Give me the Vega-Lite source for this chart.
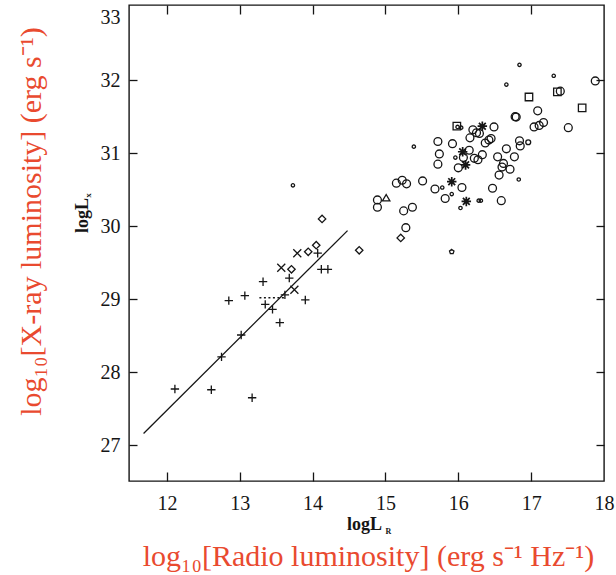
{
  "$schema": "https://vega.github.io/schema/vega-lite/v6.json",
  "width": 475,
  "height": 476,
  "autosize": {"type": "none"},
  "padding": {"left": 129, "top": 5, "right": 12, "bottom": 94},
  "background": "white",
  "config": {
    "view": {"stroke": "#151515", "strokeWidth": 1.4},
    "axis": {"grid": false, "labelFlush": false, "labelOverlap": false}
  },
  "datasets": {
    "pts": [
      {"lr": 17.88, "lx": 31.99, "k": "o"},
      {"lr": 17.40, "lx": 31.85, "k": "o"},
      {"lr": 17.09, "lx": 31.58, "k": "o"},
      {"lr": 16.78, "lx": 31.50, "k": "o"},
      {"lr": 16.795, "lx": 31.495, "k": "o"},
      {"lr": 17.51, "lx": 31.35, "k": "o"},
      {"lr": 17.04, "lx": 31.36, "k": "o"},
      {"lr": 17.11, "lx": 31.38, "k": "o"},
      {"lr": 17.17, "lx": 31.42, "k": "o"},
      {"lr": 16.84, "lx": 31.17, "k": "o"},
      {"lr": 16.85, "lx": 31.10, "k": "o"},
      {"lr": 16.49, "lx": 31.36, "k": "o"},
      {"lr": 16.20, "lx": 31.32, "k": "o"},
      {"lr": 16.25, "lx": 31.28, "k": "o"},
      {"lr": 16.29, "lx": 31.27, "k": "o"},
      {"lr": 16.16, "lx": 31.21, "k": "o"},
      {"lr": 16.45, "lx": 31.20, "k": "o"},
      {"lr": 16.42, "lx": 31.18, "k": "o"},
      {"lr": 16.37, "lx": 31.14, "k": "o"},
      {"lr": 15.72, "lx": 31.16, "k": "o"},
      {"lr": 15.92, "lx": 31.13, "k": "o"},
      {"lr": 15.74, "lx": 30.99, "k": "o"},
      {"lr": 15.72, "lx": 30.85, "k": "o"},
      {"lr": 16.15, "lx": 31.04, "k": "o"},
      {"lr": 16.07, "lx": 30.94, "k": "o"},
      {"lr": 16.00, "lx": 30.80, "k": "o"},
      {"lr": 16.22, "lx": 30.93, "k": "o"},
      {"lr": 16.27, "lx": 30.91, "k": "o"},
      {"lr": 16.33, "lx": 30.98, "k": "o"},
      {"lr": 16.66, "lx": 31.06, "k": "o"},
      {"lr": 16.54, "lx": 30.95, "k": "o"},
      {"lr": 16.77, "lx": 30.95, "k": "o"},
      {"lr": 16.62, "lx": 30.86, "k": "o"},
      {"lr": 16.60, "lx": 30.81, "k": "o"},
      {"lr": 16.71, "lx": 30.78, "k": "o"},
      {"lr": 16.56, "lx": 30.70, "k": "o"},
      {"lr": 16.47, "lx": 30.52, "k": "o"},
      {"lr": 16.59, "lx": 30.35, "k": "o"},
      {"lr": 16.05, "lx": 30.53, "k": "o"},
      {"lr": 15.68, "lx": 30.51, "k": "o"},
      {"lr": 15.82, "lx": 30.38, "k": "o"},
      {"lr": 15.51, "lx": 30.62, "k": "o"},
      {"lr": 15.15, "lx": 30.59, "k": "o"},
      {"lr": 15.23, "lx": 30.63, "k": "o"},
      {"lr": 15.29, "lx": 30.58, "k": "o"},
      {"lr": 14.89, "lx": 30.36, "k": "o"},
      {"lr": 14.89, "lx": 30.26, "k": "o"},
      {"lr": 15.25, "lx": 30.21, "k": "o"},
      {"lr": 15.37, "lx": 30.26, "k": "o"},
      {"lr": 15.28, "lx": 29.98, "k": "o"},
      {"lr": 16.84, "lx": 32.21, "k": "s"},
      {"lr": 17.31, "lx": 32.06, "k": "s"},
      {"lr": 16.66, "lx": 31.94, "k": "s"},
      {"lr": 15.99, "lx": 31.36, "k": "s"},
      {"lr": 16.04, "lx": 31.35, "k": "s"},
      {"lr": 15.96, "lx": 30.94, "k": "s"},
      {"lr": 16.83, "lx": 30.64, "k": "s"},
      {"lr": 15.78, "lx": 30.53, "k": "s"},
      {"lr": 15.91, "lx": 30.44, "k": "s"},
      {"lr": 16.03, "lx": 30.25, "k": "s"},
      {"lr": 16.28, "lx": 30.35, "k": "s"},
      {"lr": 16.31, "lx": 30.35, "k": "s"},
      {"lr": 15.39, "lx": 31.09, "k": "s"},
      {"lr": 13.73, "lx": 30.56, "k": "s"},
      {"lr": 16.96, "lx": 31.15, "k": "m"},
      {"lr": 16.97, "lx": 31.77, "k": "sq"},
      {"lr": 17.36, "lx": 31.84, "k": "sq"},
      {"lr": 17.70, "lx": 31.62, "k": "sq"},
      {"lr": 15.98, "lx": 31.37, "k": "sq"},
      {"lr": 16.33, "lx": 31.37, "k": "ast"},
      {"lr": 16.06, "lx": 31.02, "k": "ast"},
      {"lr": 16.10, "lx": 30.84, "k": "ast"},
      {"lr": 15.91, "lx": 30.61, "k": "ast"},
      {"lr": 16.11, "lx": 30.34, "k": "ast"},
      {"lr": 15.01, "lx": 30.39, "k": "tri"},
      {"lr": 15.91, "lx": 29.65, "k": "pen"},
      {"lr": 15.21, "lx": 29.84, "k": "dia"},
      {"lr": 14.64, "lx": 29.67, "k": "dia"},
      {"lr": 14.13, "lx": 30.10, "k": "dia"},
      {"lr": 13.94, "lx": 29.65, "k": "dia"},
      {"lr": 14.05, "lx": 29.74, "k": "dia"},
      {"lr": 13.71, "lx": 29.41, "k": "dia"},
      {"lr": 13.57, "lx": 29.43, "k": "x"},
      {"lr": 13.79, "lx": 29.63, "k": "x"},
      {"lr": 13.75, "lx": 29.13, "k": "x"},
      {"lr": 12.11, "lx": 27.77, "k": "p"},
      {"lr": 12.61, "lx": 27.76, "k": "p"},
      {"lr": 13.17, "lx": 27.65, "k": "p"},
      {"lr": 12.75, "lx": 28.21, "k": "p"},
      {"lr": 13.02, "lx": 28.51, "k": "p"},
      {"lr": 12.85, "lx": 28.98, "k": "p"},
      {"lr": 13.07, "lx": 29.05, "k": "p"},
      {"lr": 13.32, "lx": 29.24, "k": "p"},
      {"lr": 13.35, "lx": 28.93, "k": "p"},
      {"lr": 13.45, "lx": 28.86, "k": "p"},
      {"lr": 13.55, "lx": 28.68, "k": "p"},
      {"lr": 13.62, "lx": 29.06, "k": "p"},
      {"lr": 13.68, "lx": 29.29, "k": "p"},
      {"lr": 13.90, "lx": 28.99, "k": "p"},
      {"lr": 14.12, "lx": 29.41, "k": "p"},
      {"lr": 14.21, "lx": 29.41, "k": "p"},
      {"lr": 14.07, "lx": 29.63, "k": "p"}
    ],
    "fit": [
      {"lr": 11.68, "lx": 27.16},
      {"lr": 14.48, "lx": 29.94}
    ],
    "dot": [
      {"lr": 13.27, "lx": 29.02},
      {"lr": 13.64, "lx": 29.02}
    ]
  },
  "layer": [
    {
      "data": {"name": "pts"},
      "transform": [{"filter": "datum.k === 'o'"}],
      "mark": {"type": "point", "shape": "circle", "size": 62, "filled": false, "stroke": "#151515", "strokeWidth": 1.3, "opacity": 1},
      "encoding": {
        "x": {"field": "lr", "type": "quantitative", "scale": {"domain": [11.48, 18.0], "nice": false, "zero": false},
          "axis": {"orient": "bottom", "values": [12, 13, 14, 15, 16, 17, 18], "format": "d", "ticks": false, "domain": false,
            "labelFont": "Liberation Serif", "labelFontSize": 20, "labelColor": "#151515", "labelPadding": 12, "labelFlush": false,
            "title": "logL", "titleFont": "Liberation Serif", "titleFontSize": 18, "titleFontWeight": "bold", "titleColor": "#151515",
            "titleX": 235, "titleY": 48, "titleBaseline": "alphabetic", "titleAlign": "center"}},
        "y": {"field": "lx", "type": "quantitative", "scale": {"domain": [26.51, 33.03], "nice": false, "zero": false},
          "axis": {"orient": "left", "values": [27, 28, 29, 30, 31, 32, 33], "format": "d", "ticks": false, "domain": false,
            "labelFont": "Liberation Serif", "labelFontSize": 20, "labelColor": "#151515", "labelPadding": 9, "labelFlush": false,
            "labelBaseline": {"condition": {"test": "datum.value === 33", "value": "top"}, "value": "middle"},
            "title": "logL", "titleFont": "Liberation Serif", "titleFontSize": 18, "titleFontWeight": "bold", "titleColor": "#151515",
            "titleX": -42, "titleY": 210, "titleAngle": -90, "titleBaseline": "alphabetic", "titleAlign": "center"}}
      }
    },
    {
      "data": {"name": "pts"},
      "transform": [{"filter": "datum.k === 's'"}],
      "mark": {"type": "point", "shape": "circle", "size": 11, "filled": false, "stroke": "#151515", "strokeWidth": 1.3, "opacity": 1},
      "encoding": {
        "x": {"field": "lr", "type": "quantitative", "scale": {"domain": [11.48, 18.0], "nice": false, "zero": false},
          "axis": {"orient": "bottom", "values": [12, 13, 14, 15, 16, 17], "labels": false, "domain": false, "ticks": true,
            "tickSize": -9, "tickWidth": 1.3, "tickColor": "#151515", "title": null}},
        "y": {"field": "lx", "type": "quantitative", "scale": {"domain": [26.51, 33.03], "nice": false, "zero": false},
          "axis": {"orient": "left", "values": [27, 28, 29, 30, 31, 32], "labels": false, "domain": false, "ticks": true,
            "tickSize": -8, "tickWidth": 1.3, "tickColor": "#151515", "title": null}}
      }
    },
    {
      "data": {"name": "fit"},
      "mark": {"type": "line", "stroke": "#151515", "strokeWidth": 1.3},
      "encoding": {
        "x": {"field": "lr", "type": "quantitative", "scale": {"domain": [11.48, 18.0], "nice": false, "zero": false},
          "axis": {"orient": "top", "values": [12, 13, 14, 15, 16, 17], "labels": false, "domain": false, "ticks": true,
            "tickSize": -9, "tickWidth": 1.3, "tickColor": "#151515", "title": null}},
        "y": {"field": "lx", "type": "quantitative", "scale": {"domain": [26.51, 33.03], "nice": false, "zero": false},
          "axis": {"orient": "right", "values": [27, 28, 29, 30, 31, 32], "labels": false, "domain": false, "ticks": true,
            "tickSize": -8, "tickWidth": 1.3, "tickColor": "#151515", "title": null}}
      }
    },
    {
      "data": {"name": "dot"},
      "mark": {"type": "line", "stroke": "#151515", "strokeWidth": 1.3, "strokeDash": [2, 2.5]},
      "encoding": {
        "x": {"field": "lr", "type": "quantitative", "scale": {"domain": [11.48, 18.0], "nice": false, "zero": false},
          "axis": {"orient": "bottom", "labels": false, "ticks": false, "domain": false,
            "title": "log₁₀[Radio luminosity] (erg s⁻¹ Hz⁻¹)", "titleFont": "Liberation Serif", "titleFontSize": 30, "titleFontWeight": "normal",
            "titleColor": "#e94a2f", "titleX": 239, "titleY": 84, "titleBaseline": "alphabetic", "titleAlign": "center"}},
        "y": {"field": "lx", "type": "quantitative", "scale": {"domain": [26.51, 33.03], "nice": false, "zero": false},
          "axis": {"orient": "left", "labels": false, "ticks": false, "domain": false,
            "title": "log₁₀[X-ray luminosity] (erg s⁻¹)", "titleFont": "Liberation Serif", "titleFontSize": 30, "titleFontWeight": "normal",
            "titleColor": "#e94a2f", "titleX": -89, "titleY": 216, "titleAngle": -90, "titleBaseline": "alphabetic", "titleAlign": "center"}}
      }
    },
    {
      "data": {"name": "pts"},
      "transform": [{"filter": "datum.k === 'p'"}],
      "mark": {"type": "point", "shape": "M-1,0L1,0M0,-1L0,1", "size": 70, "filled": false, "stroke": "#151515", "strokeWidth": 1.3, "opacity": 1},
      "encoding": {
        "x": {"field": "lr", "type": "quantitative", "scale": {"domain": [11.48, 18.0], "nice": false, "zero": false},
          "axis": {"orient": "bottom", "labels": false, "ticks": false, "domain": false,
            "title": "R", "titleFont": "Liberation Serif", "titleFontSize": 8, "titleFontWeight": "bold", "titleColor": "#151515",
            "titleX": 259, "titleY": 52, "titleBaseline": "alphabetic", "titleAlign": "center"}},
        "y": {"field": "lx", "type": "quantitative", "scale": {"domain": [26.51, 33.03], "nice": false, "zero": false},
          "axis": {"orient": "left", "labels": false, "ticks": false, "domain": false,
            "title": "x", "titleFont": "Liberation Serif", "titleFontSize": 9, "titleFontWeight": "bold", "titleColor": "#151515",
            "titleX": -39, "titleY": 190, "titleAngle": -90, "titleBaseline": "alphabetic", "titleAlign": "center"}}
      }
    },
    {
      "data": {"name": "pts"},
      "transform": [{"filter": "datum.k === 'm'"}],
      "mark": {"type": "point", "shape": "circle", "size": 24, "filled": false, "stroke": "#151515", "strokeWidth": 1.3, "opacity": 1},
      "encoding": {
        "x": {"field": "lr", "type": "quantitative", "scale": {"domain": [11.48, 18.0], "nice": false, "zero": false}, "axis": null},
        "y": {"field": "lx", "type": "quantitative", "scale": {"domain": [26.51, 33.03], "nice": false, "zero": false}, "axis": null}
      }
    },
    {
      "data": {"name": "pts"},
      "transform": [{"filter": "datum.k === 'sq'"}],
      "mark": {"type": "point", "shape": "square", "size": 56, "filled": false, "stroke": "#151515", "strokeWidth": 1.3, "opacity": 1},
      "encoding": {
        "x": {"field": "lr", "type": "quantitative", "scale": {"domain": [11.48, 18.0], "nice": false, "zero": false}, "axis": null},
        "y": {"field": "lx", "type": "quantitative", "scale": {"domain": [26.51, 33.03], "nice": false, "zero": false}, "axis": null}
      }
    },
    {
      "data": {"name": "pts"},
      "transform": [{"filter": "datum.k === 'ast'"}],
      "mark": {"type": "point", "shape": "M-1,0L1,0M0,-1L0,1M-0.72,-0.72L0.72,0.72M-0.72,0.72L0.72,-0.72", "size": 90, "filled": false, "stroke": "#151515", "strokeWidth": 1.7, "opacity": 1},
      "encoding": {
        "x": {"field": "lr", "type": "quantitative", "scale": {"domain": [11.48, 18.0], "nice": false, "zero": false}, "axis": null},
        "y": {"field": "lx", "type": "quantitative", "scale": {"domain": [26.51, 33.03], "nice": false, "zero": false}, "axis": null}
      }
    },
    {
      "data": {"name": "pts"},
      "transform": [{"filter": "datum.k === 'tri'"}],
      "mark": {"type": "point", "shape": "triangle-up", "size": 55, "filled": false, "stroke": "#151515", "strokeWidth": 1.3, "opacity": 1},
      "encoding": {
        "x": {"field": "lr", "type": "quantitative", "scale": {"domain": [11.48, 18.0], "nice": false, "zero": false}, "axis": null},
        "y": {"field": "lx", "type": "quantitative", "scale": {"domain": [26.51, 33.03], "nice": false, "zero": false}, "axis": null}
      }
    },
    {
      "data": {"name": "pts"},
      "transform": [{"filter": "datum.k === 'pen'"}],
      "mark": {"type": "point", "shape": "M0,-1L0.951,-0.309L0.588,0.809L-0.588,0.809L-0.951,-0.309Z", "size": 22, "filled": false, "stroke": "#151515", "strokeWidth": 1.3, "opacity": 1},
      "encoding": {
        "x": {"field": "lr", "type": "quantitative", "scale": {"domain": [11.48, 18.0], "nice": false, "zero": false}, "axis": null},
        "y": {"field": "lx", "type": "quantitative", "scale": {"domain": [26.51, 33.03], "nice": false, "zero": false}, "axis": null}
      }
    },
    {
      "data": {"name": "pts"},
      "transform": [{"filter": "datum.k === 'dia'"}],
      "mark": {"type": "point", "shape": "diamond", "size": 55, "filled": false, "stroke": "#151515", "strokeWidth": 1.3, "opacity": 1},
      "encoding": {
        "x": {"field": "lr", "type": "quantitative", "scale": {"domain": [11.48, 18.0], "nice": false, "zero": false}, "axis": null},
        "y": {"field": "lx", "type": "quantitative", "scale": {"domain": [26.51, 33.03], "nice": false, "zero": false}, "axis": null}
      }
    },
    {
      "data": {"name": "pts"},
      "transform": [{"filter": "datum.k === 'x'"}],
      "mark": {"type": "point", "shape": "M-1,-1L1,1M-1,1L1,-1", "size": 64, "filled": false, "stroke": "#151515", "strokeWidth": 1.3, "opacity": 1},
      "encoding": {
        "x": {"field": "lr", "type": "quantitative", "scale": {"domain": [11.48, 18.0], "nice": false, "zero": false}, "axis": null},
        "y": {"field": "lx", "type": "quantitative", "scale": {"domain": [26.51, 33.03], "nice": false, "zero": false}, "axis": null}
      }
    }
  ],
  "resolve": {"axis": {"x": "independent", "y": "independent"}}
}
